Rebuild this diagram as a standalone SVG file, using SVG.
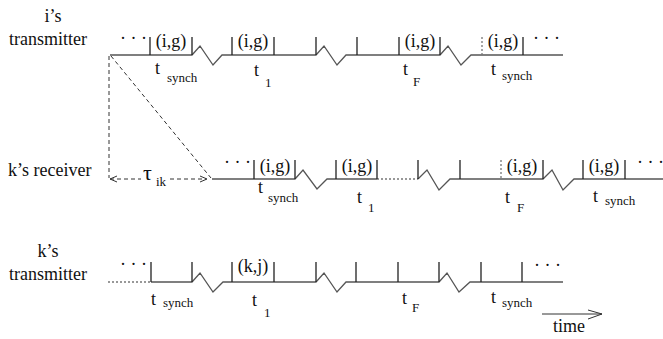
<svg xmlns="http://www.w3.org/2000/svg" width="663" height="339" viewBox="0 0 663 339">
<style>
text{font-family:'Liberation Serif','DejaVu Serif',serif;fill:#111}
.lb{font-size:18px}
.t{font-size:18px}
.s{font-size:13px}
.base{fill:none;stroke:#555;stroke-width:1.3;stroke-linejoin:miter}
.tick{stroke:#222;stroke-width:1.3}
.dot{stroke:#777;stroke-width:1.3;stroke-dasharray:2 2;fill:none}
.dash{stroke:#333;stroke-width:1;stroke-dasharray:4 3;fill:none}
.ah{fill:none;stroke:#333;stroke-width:1}
</style>
<rect width="663" height="339" fill="#fff"/>
<g font-family="Liberation Serif, serif">
<g id="i-transmitter">
  <text class="lb" x="53" y="22" text-anchor="middle">i’s</text>
  <text class="lb" x="9" y="45">transmitter</text>
  <path class="base" d="M110,55 H192 L200,46 L213,65 L222,55 H316 L324,46 L337,65 L346,55 H440 L448,46 L461,65 L471,55 H563"/>
  <path class="tick" d="M150,37V55 M192,37V55 M232,37V55 M274,37V55 M316,37V55 M357,37V55 M399,37V55 M440,37V55 M523,37V55"/>
  <path class="dot" d="M482,37V55"/>
  <text class="lb" x="120" y="44">· · ·</text>
  <text class="lb" x="171" y="47" text-anchor="middle">(i,g)</text>
  <text class="lb" x="253" y="47" text-anchor="middle">(i,g)</text>
  <text class="lb" x="420" y="47" text-anchor="middle">(i,g)</text>
  <text class="lb" x="503" y="47" text-anchor="middle">(i,g)</text>
  <text class="lb" x="533" y="44">· · ·</text>
  <text class="t" x="155" y="74">t</text><text class="s" x="167" y="82">synch</text>
  <text class="t" x="254" y="76">t</text><text class="s" x="265" y="87">1</text>
  <text class="t" x="403" y="75">t</text><text class="s" x="413" y="86">F</text>
  <text class="t" x="491" y="75">t</text><text class="s" x="502" y="80">synch</text>
</g>

<g id="k-receiver">
  <text class="lb" x="8" y="176">k’s receiver</text>
  <path class="base" d="M212,179 H295 L303,170 L317,189 L327,179 H377"/>
  <path class="dot" d="M377,179 H418"/>
  <path class="base" d="M418,179 L427,170 L439,190 L450,179 H543 L552,170 L563,190 L574,179 H663"/>
  <path class="tick" d="M254,160V179 M295,160V179 M336,160V179 M377,160V179 M418,160V179 M460,160V179 M543,160V179 M583,160V179 M625,160V179"/>
  <path class="dot" d="M501,160V179"/>
  <text class="lb" x="224" y="168">· · ·</text>
  <text class="lb" x="275" y="172" text-anchor="middle">(i,g)</text>
  <text class="lb" x="357" y="172" text-anchor="middle">(i,g)</text>
  <text class="lb" x="522" y="172" text-anchor="middle">(i,g)</text>
  <text class="lb" x="604" y="172" text-anchor="middle">(i,g)</text>
  <text class="lb" x="637" y="168">· · ·</text>
  <text class="t" x="258" y="193">t</text><text class="s" x="268" y="202">synch</text>
  <text class="t" x="357" y="203">t</text><text class="s" x="368" y="212">1</text>
  <text class="t" x="505" y="203">t</text><text class="s" x="517" y="212">F</text>
  <text class="t" x="593" y="202">t</text><text class="s" x="605" y="205">synch</text>
</g>

<g id="k-transmitter">
  <text class="lb" x="48" y="257" text-anchor="middle">k’s</text>
  <text class="lb" x="9" y="280">transmitter</text>
  <path class="dot" d="M108,282 H151"/>
  <path class="base" d="M151,282 H192 L200,273 L213,292 L223,282 H316 L324,273 L337,292 L346,282 H439 L447,273 L459,292 L470,282 H563"/>
  <path class="tick" d="M151,262V282 M192,262V282 M232,262V282 M274,262V282 M316,262V282 M356,262V282 M398,262V282 M439,262V282 M481,262V282 M522,262V282"/>
  <text class="lb" x="120" y="270">· · ·</text>
  <text class="lb" x="253" y="272" text-anchor="middle">(k,j)</text>
  <text class="lb" x="534" y="271">· · ·</text>
  <text class="t" x="151" y="305">t</text><text class="s" x="163" y="307">synch</text>
  <text class="t" x="252" y="306">t</text><text class="s" x="264" y="317">1</text>
  <text class="t" x="402" y="304">t</text><text class="s" x="412" y="312">F</text>
  <text class="t" x="491" y="303">t</text><text class="s" x="502" y="307">synch</text>
</g>

<g id="connectors">
  <path class="dash" d="M109,56 V178"/>
  <path class="dash" d="M111,56 L211,178"/>
  <path class="dash" d="M110,179 H141 M170,179 H206"/>
  <path class="ah" d="M117,176 L110,179 L117,182 M200,176 L207,179 L200,182"/>
  <text x="143" y="180" font-size="22">τ</text><text class="s" x="156" y="186">ik</text>
  <path class="ah" d="M542,314 H602 M588,310 L602,314 L588,319"/>
  <text class="lb" x="553" y="332">time</text>
</g>
</g>
</svg>
